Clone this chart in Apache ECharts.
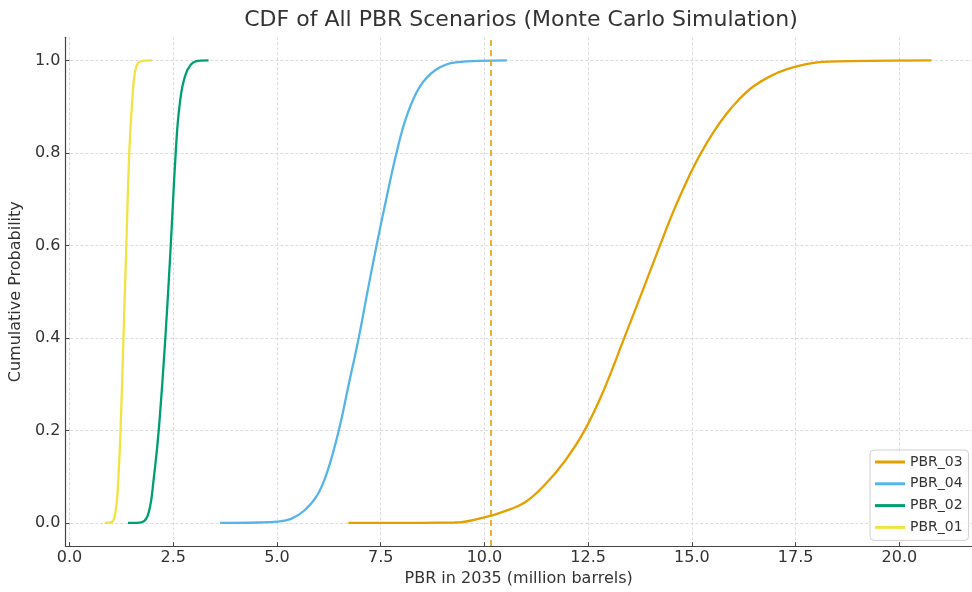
<!DOCTYPE html>
<html>
<head>
<meta charset="utf-8">
<script src="https://cdn.jsdelivr.net/npm/echarts@6/dist/echarts.min.js"></script>
<style>
html,body{margin:0;padding:0;background:#fff;}
#chart{width:972px;height:592px;}
</style>
</head>
<body>
<div id="chart"></div>
<script>
// ---- data ----
const seriesNames = ['PBR_03', 'PBR_04', 'PBR_02', 'PBR_01'];
const seriesColors = ['#E69F00', '#56B4E9', '#009E73', '#F0E442'];

const pbr01X = [0.85, 1.02, 1.10, 1.16, 1.23, 1.30, 1.37, 1.44, 1.51, 1.59, 1.71, 1.99];
const pbr01Y = [0.0, 0.002, 0.02, 0.07, 0.2, 0.4, 0.6, 0.8, 0.91, 0.98, 0.998, 1.0];

const pbr02X = [1.41, 1.75, 1.91, 2.03, 2.15, 2.31, 2.44, 2.56, 2.65, 2.80, 3.04, 3.35];
const pbr02Y = [0.0, 0.002, 0.023, 0.096, 0.2, 0.4, 0.6, 0.8, 0.9, 0.97, 0.998, 1.0];

const pbr04X = [3.63, 4.55, 5.0, 5.34, 5.66, 5.97, 6.21, 6.49, 6.73, 6.97, 7.19, 7.40, 7.64, 7.88, 8.12, 8.44, 8.83, 9.31, 10.54];
const pbr04Y = [0.0, 0.001, 0.003, 0.009, 0.027, 0.06, 0.11, 0.2, 0.3, 0.4, 0.504, 0.6, 0.703, 0.8, 0.878, 0.943, 0.98, 0.996, 1.0];

const pbr03X = [6.72, 9.28, 10.0, 10.41, 10.98, 11.45, 11.93, 12.40, 12.87, 13.37, 13.82, 14.23, 14.56, 14.96, 15.20, 15.52, 15.83, 16.15, 16.47, 16.87, 17.26, 17.90, 18.55, 20.77];
const pbr03Y = [0.0, 0.001, 0.012, 0.023, 0.045, 0.082, 0.133, 0.198, 0.286, 0.4, 0.504, 0.6, 0.675, 0.755, 0.797, 0.845, 0.884, 0.917, 0.943, 0.965, 0.98, 0.994, 0.998, 1.0];

const thresholdX = 10.15;

const xTicks = [0, 2.5, 5, 7.5, 10, 12.5, 15, 17.5, 20];
const yTicks = [0, 0.2, 0.4, 0.6, 0.8, 1.0];

// ---- chart ----
const FONT = 'DejaVu Sans';
const TXT = '#333';
const AX = '#444';

function zip(xs, ys) { return xs.map((x, i) => [x, ys[i]]); }
const seriesData = {
  'PBR_03': zip(pbr03X, pbr03Y),
  'PBR_04': zip(pbr04X, pbr04Y),
  'PBR_02': zip(pbr02X, pbr02Y),
  'PBR_01': zip(pbr01X, pbr01Y)
};

const chart = echarts.init(document.getElementById('chart'), null, {renderer: 'canvas'});

const series = seriesNames.map((name, i) => {
  const s = {
    name: name,
    type: 'line',
    data: seriesData[name],
    showSymbol: false,
    symbol: 'none',
    smooth: 0.4,
    lineStyle: {color: seriesColors[i], width: 2.3},
    itemStyle: {color: seriesColors[i]},
    z: 3 + i
  };
  if (name === 'PBR_03') {
    s.markLine = {
      silent: true,
      symbol: 'none',
      label: {show: false},
      animation: false,
      lineStyle: {color: '#E69F00', type: [6, 4], width: 1.6},
      data: [{xAxis: thresholdX}]
    };
  }
  return s;
});

chart.setOption({
  animation: false,
  backgroundColor: '#fff',
  title: {
    text: 'CDF of All PBR Scenarios (Monte Carlo Simulation)',
    left: 521,
    top: 9,
    textAlign: 'center',
    padding: 0,
    textStyle: {fontFamily: FONT, fontSize: 22, fontWeight: 'normal', color: TXT}
  },
  legend: {
    data: seriesNames,
    orient: 'vertical',
    left: 870,
    top: 450,
    icon: 'rect',
    itemWidth: 30,
    itemHeight: 3,
    itemGap: 5.8,
    itemTextGap: 10,
    padding: [4, 6, 5, 5],
    backgroundColor: 'rgba(255,255,255,0.85)',
    borderColor: '#d0d0d0',
    borderWidth: 1,
    borderRadius: 4,
    textStyle: {fontFamily: FONT, fontSize: 14, color: TXT, lineHeight: 16}
  },
  grid: {
    left: 65.1,
    top: 37.3,
    width: 916.4,
    height: 510.4,
    containLabel: false
  },
  xAxis: {
    type: 'value',
    min: -0.1,
    max: 21.75,
    name: 'PBR in 2035 (million barrels)',
    nameLocation: 'middle',
    nameGap: 22,
    nameTextStyle: {fontFamily: FONT, fontSize: 16, color: TXT},
    axisLine: {show: true, onZero: false, lineStyle: {color: AX, width: 1.2}},
    axisTick: {show: true, inside: true, length: 4, customValues: xTicks, lineStyle: {color: AX, width: 1}},
    axisLabel: {
      customValues: xTicks,
      fontFamily: FONT, fontSize: 16, color: TXT, margin: 4,
      formatter: v => Number(v).toFixed(1)
    },
    splitLine: {show: true, lineStyle: {color: '#d3d3d3', type: [3, 2], width: 0.8}}
  },
  yAxis: {
    type: 'value',
    min: -0.05,
    max: 1.05,
    name: 'Cumulative Probability',
    nameLocation: 'middle',
    nameGap: 29,
    nameTextStyle: {fontFamily: FONT, fontSize: 16, color: TXT},
    axisLine: {show: true, onZero: false, lineStyle: {color: AX, width: 1.2}},
    axisTick: {show: true, inside: true, length: 4, customValues: yTicks, lineStyle: {color: AX, width: 1}},
    axisLabel: {
      customValues: yTicks,
      fontFamily: FONT, fontSize: 16, color: TXT, margin: 5,
      formatter: v => Number(v).toFixed(1)
    },
    splitLine: {show: true, lineStyle: {color: '#d3d3d3', type: [3, 2], width: 0.8}}
  },
  series: series
});
</script>
</body>
</html>
